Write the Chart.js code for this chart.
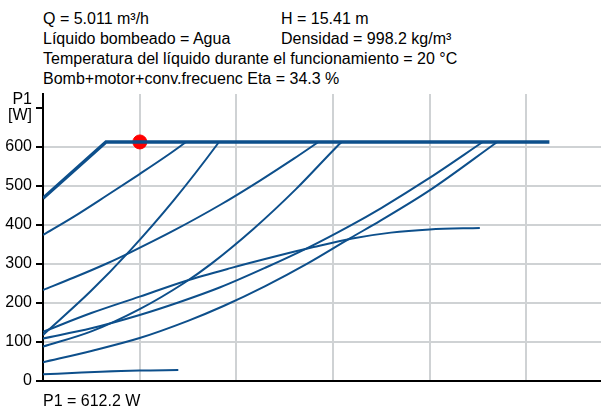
<!DOCTYPE html>
<html>
<head>
<meta charset="utf-8">
<script src="https://cdn.jsdelivr.net/npm/chart.js@4/dist/chart.umd.min.js"></script>
<style>
  body { margin: 0; background: #fff; }
  #page { position: relative; width: 601px; height: 411px; overflow: hidden; font-family: "Liberation Sans", Arial, sans-serif; font-size: 16px; color: #000; }
  .txt { position: absolute; white-space: nowrap; line-height: 20px; }
  #plot { position: absolute; left: 0; top: 74px; }
</style>
</head>
<body>
<div id="page">
  <div class="txt" style="left:43px; top:9px;">Q = 5.011 m³/h</div>
  <div class="txt" style="left:281px; top:9px;">H = 15.41 m</div>
  <div class="txt" style="left:43px; top:29px;">Líquido bombeado = Agua</div>
  <div class="txt" style="left:281px; top:29px;">Densidad = 998.2 kg/m³</div>
  <div class="txt" style="left:43px; top:49px;">Temperatura del líquido durante el funcionamiento = 20 °C</div>
  <div class="txt" style="left:43px; top:69px;">Bomb+motor+conv.frecuenc Eta = 34.3 %</div>
  <canvas id="plot" width="609" height="319"></canvas>
  <div class="txt" style="left:43px; top:391px;">P1 = 612.2 W</div>
</div>
<script>
// flow Q [m³/h] and input power P1 [W]
const envQ = [0, 3.26, 26.2];
const envP = [468, 612.2, 612.2];

const aQ = [0, 1.6, 3.3, 5.0, 6.5, 7.4];
const aP = [374, 421, 475, 530, 580, 612];

const bQ = [0, 1.6, 3.3, 4.5, 6.75, 9.2, 11.25, 13.0, 14.25];
const bP = [233, 265, 301, 329, 385, 452, 514, 570, 612];

const cQ = [0, 2.45, 4.5, 6.75, 9.0, 9.1];
const cP = [118, 229, 334, 462, 605, 612];

const eQ = [0, 2.5, 5, 7.3, 8.7, 10.9, 13.1, 15.2, 15.45];
const eP = [88, 127, 184, 251, 300, 390, 492, 600, 612];

const fQ = [0, 2.5, 5, 7.3, 9.7, 12.1, 14, 16, 18, 20, 22.6];
const fP = [126, 174, 216, 255, 289, 320, 343, 365, 380, 388, 392];

const gQ = [0, 2.5, 5, 7, 9.17, 11.5, 13.7, 15.9, 17.5, 20, 22.75];
const gP = [109, 135, 169, 201, 240, 290, 341, 398, 443, 520, 612];

const hQ = [0, 2.5, 5, 7.5, 9.34, 11.5, 13.65, 15.9, 17.44, 20, 23.5];
const hP = [48, 77, 110, 154, 192, 243, 300, 366, 410, 488, 612];

const lowQ = [0, 1.5, 3, 5, 7];
const lowP = [17, 20.5, 24, 27, 28];

const dutyQ = [5.011];
const dutyP = [612.2];

const yTicks = [0, 100, 200, 300, 400, 500, 600, 700];

const lineColor = '#0d4f8b';
const gridColor = '#cfd2d4';

function pts(qs, ps) {
  return qs.map((q, i) => ({ x: q, y: ps[i] }));
}

function curve(qs, ps, width) {
  return {
    data: pts(qs, ps),
    borderColor: lineColor,
    borderWidth: width || 2,
    pointRadius: 0,
    fill: false,
    cubicInterpolationMode: 'monotone'
  };
}

const envelope = curve(envQ, envP, 3.5);
envelope.cubicInterpolationMode = 'default';
envelope.tension = 0;

new Chart(document.getElementById('plot'), {
  type: 'line',
  data: {
    datasets: [
      curve(lowQ, lowP),
      curve(hQ, hP),
      curve(gQ, gP),
      curve(fQ, fP),
      curve(eQ, eP),
      curve(cQ, cP),
      curve(bQ, bP),
      curve(aQ, aP),
      envelope,
      {
        type: 'scatter',
        data: pts(dutyQ, dutyP),
        backgroundColor: '#ff0000',
        borderColor: '#ff0000',
        pointRadius: 7,
        pointHoverRadius: 7
      }
    ]
  },
  options: {
    responsive: false,
    animation: false,
    layout: { padding: 0 },
    plugins: {
      legend: { display: false },
      tooltip: { enabled: false }
    },
    scales: {
      x: {
        type: 'linear',
        min: 0,
        max: 28.87,
        ticks: { display: false, stepSize: 5, includeBounds: false },
        grid: { color: gridColor, lineWidth: 2, drawTicks: false },
        border: { color: '#000', width: 2 }
      },
      y: {
        min: 0,
        max: 735,
        afterBuildTicks: (scale) => {
          scale.ticks = yTicks.map(v => ({ value: v }));
        },
        afterFit: (scale) => { scale.width = 43; },
        ticks: {
          padding: 4,
          color: '#000',
          font: { family: '"Liberation Sans", Arial, sans-serif', size: 16, lineHeight: 1 },
          callback: (v) => v === 700 ? ['P1', '[W]'] : v
        },
        grid: {
          color: (ctx) => (ctx.tick && ctx.tick.value === 700) ? 'rgba(0,0,0,0)' : gridColor,
          lineWidth: 2,
          tickColor: '#000',
          tickLength: 7,
          tickWidth: 2
        },
        border: { color: '#000', width: 2 }
      }
    }
  }
});
</script>
</body>
</html>
